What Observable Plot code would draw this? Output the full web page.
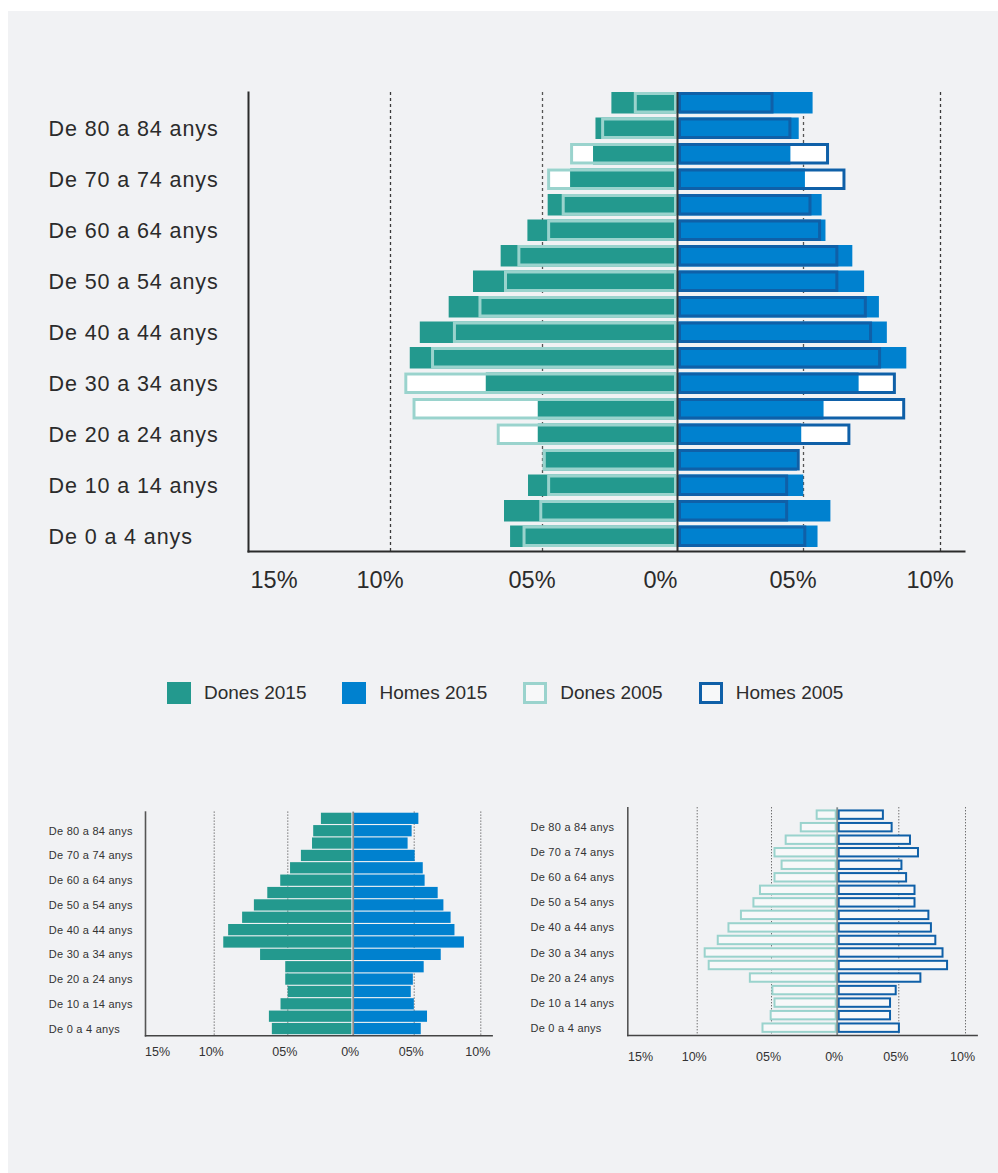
<!DOCTYPE html>
<html>
<head>
<meta charset="utf-8">
<script src="https://cdn.jsdelivr.net/npm/d3@7"></script>
<script src="https://cdn.jsdelivr.net/npm/@observablehq/plot@0.6"></script>
<style>
  html, body { margin: 0; padding: 0; background: #ffffff; overflow: hidden; }
  body { width: 998px; height: 1173px; position: relative; font-family: "Liberation Sans", Arial, sans-serif; }
  #panel { position: absolute; left: 8px; top: 11px; width: 990px; height: 1162px; background: #f1f2f4; }
  .chart { position: absolute; }
  .chart svg { display: block; overflow: visible; }
  #big g[aria-label="y-axis tick label"] { letter-spacing: 0.9px; }
  #smallA g[aria-label="y-axis tick label"], #smallB g[aria-label="y-axis tick label"] { letter-spacing: 0.25px; }
  #legend { position: absolute; left: 167px; top: 682px; display: flex; align-items: center; gap: 36px; font-size: 19px; color: #2d2d2d; }
  #legend .item { display: flex; align-items: center; }
  #legend .sw { width: 24px; height: 22px; box-sizing: border-box; margin-right: 13px; }
</style>
</head>
<body>
<div id="panel"></div>
<div id="big" class="chart" style="left:0px; top:58px;"></div>
<div id="legend"></div>
<div id="smallA" class="chart" style="left:0px; top:790px;"></div>
<div id="smallB" class="chart" style="left:500px; top:790px;"></div>
<script>
// ---- data (ordered from youngest to oldest) ----
const ages = ["De 0 a 4 anys","De 5 a 9 anys","De 10 a 14 anys","De 15 a 19 anys","De 20 a 24 anys","De 25 a 29 anys","De 30 a 34 anys","De 35 a 39 anys","De 40 a 44 anys","De 45 a 49 anys","De 50 a 54 anys","De 55 a 59 anys","De 60 a 64 anys","De 65 a 69 anys","De 70 a 74 anys","De 75 a 79 anys","De 80 a 84 anys","De 85 anys i més"];
const labelledAges = ["De 0 a 4 anys","De 10 a 14 anys","De 20 a 24 anys","De 30 a 34 anys","De 40 a 44 anys","De 50 a 54 anys","De 60 a 64 anys","De 70 a 74 anys","De 80 a 84 anys"];
const women2015 = [6.05, 6.25, 5.46, 4.97, 5.14, 5.14, 6.85, 9.35, 9.02, 8.07, 7.27, 6.36, 5.48, 4.79, 3.96, 3.11, 3.02, 2.43];
const men2015   = [5.53, 6.00, 5.01, 4.76, 4.93, 5.75, 7.03, 8.77, 8.06, 7.77, 7.23, 6.80, 5.82, 5.68, 5.07, 4.50, 4.83, 5.35];
const women2005 = [5.64, 5.09, 4.81, 4.97, 6.49, 9.26, 9.53, 8.65, 7.93, 7.09, 6.25, 5.81, 4.81, 4.27, 4.81, 3.96, 2.81, 1.60];
const men2005   = [5.12, 4.41, 4.41, 4.87, 6.73, 8.73, 8.39, 7.85, 7.52, 7.33, 6.29, 6.29, 5.66, 5.31, 6.55, 5.95, 4.54, 3.83];
const tickValues = [-15, -10, -5, 0, 5, 10];
const tickLabels = ["15%", "10%", "05%", "0%", "05%", "10%"];
const seriesNames = ["Dones 2015", "Homes 2015", "Dones 2005", "Homes 2005"];

const C = { w15: "#23998e", m15: "#0081cf", w05: "#9ad3cd", m05: "#0f60a8" };

const rows = ages.map((age, i) => ({ age, w15: women2015[i], m15: men2015[i], w05: women2005[i], m05: men2005[i] }));
const topDown = ages.slice().reverse();
const baseStyle = { background: "transparent", fontFamily: "'Liberation Sans', Arial, sans-serif", color: "#2b2b2b", overflow: "visible" };

// The source's percentage axis is not evenly spaced; a piecewise-linear
// scale transform reproduces its grid spacing.
function xAxisSetup(domain, range) {
  const f = d3.scaleLinear().domain(domain).range(range);
  const lo = range[0], hi = range[range.length - 1];
  const ticks = tickValues.map(f);
  const labelOf = new Map(ticks.map((t, i) => [t, tickLabels[i]]));
  return {
    scale: { transform: f, domain: [lo, hi], range: [lo, hi] },
    ticks,
    tickFormat: t => labelOf.get(t)
  };
}

// ---- big pyramid ----
const bx = xAxisSetup([-16.7, -15, -10, -5, 0, 5, 10, 10.85], [248, 284, 390, 542, 677, 803, 940, 964]);
const big = Plot.plot({
  width: 998, height: 548,
  marginTop: 30, marginBottom: 55, marginLeft: 248, marginRight: 34,
  style: baseStyle,
  x: bx.scale,
  y: { domain: topDown, padding: 0.157, round: false },
  marks: [
    Plot.ruleX([-10, 10], { stroke: "#3a3a3a", strokeWidth: 1.3, strokeDasharray: "3,3", insetTop: 4 }),
    Plot.ruleX([-5, 5], { stroke: "#555", strokeWidth: 1.3, strokeDasharray: "3,3", insetTop: 4 }),
    Plot.barX(rows, { y: "age", x1: d => -d.w05, x2: 0, fill: "#ffffff" }),
    Plot.barX(rows, { y: "age", x1: 0, x2: "m05", fill: "#ffffff" }),
    Plot.barX(rows, { y: "age", x1: d => -d.w15, x2: 0, fill: C.w15, insetRight: 1 }),
    Plot.barX(rows, { y: "age", x1: 0, x2: "m15", fill: C.m15, insetLeft: 2 }),
    Plot.barX(rows, { y: "age", x1: d => -d.w05, x2: 0, fill: "none", stroke: C.w05, strokeWidth: 3, inset: 1.5 }),
    Plot.barX(rows, { y: "age", x1: 0, x2: "m05", fill: "none", stroke: C.m05, strokeWidth: 3, inset: 1.5, insetLeft: 2.5 }),
    Plot.ruleX([0], { stroke: "#333", strokeWidth: 2, insetTop: 4 }),
    Plot.frame({ anchor: "left", stroke: "#2b2b2b", strokeWidth: 2, insetTop: 4 }),
    Plot.frame({ anchor: "bottom", stroke: "#2b2b2b", strokeWidth: 2 }),
    Plot.axisY({ ticks: labelledAges, tickSize: 0, tickPadding: 0, textAnchor: "start", dx: -200, fontSize: 21.5, label: null, fill: "#2b2b2b" }),
    Plot.axisX({ ticks: bx.ticks, tickFormat: bx.tickFormat, tickSize: 0, tickPadding: 20, textAnchor: "start", dx: -34, fontSize: 23.5, label: null, fill: "#2b2b2b" })
  ]
});
document.getElementById("big").append(big);

// ---- legend ----
const legend = document.getElementById("legend");
const swatchStyles = [
  `background:${C.w15};`,
  `background:${C.m15};`,
  `background:#f7f8f9; border:3px solid ${C.w05};`,
  `background:#f7f8f9; border:3px solid ${C.m05};`
];
seriesNames.forEach((name, i) => {
  const item = document.createElement("div");
  item.className = "item";
  item.innerHTML = `<span class="sw" style="${swatchStyles[i]}"></span><span>${name}</span>`;
  legend.append(item);
});

// ---- small pyramid: 2015 ----
const ax = xAxisSetup([-16.4, -15, -10, -5, 0, 5, 10, 10.86], [145, 160, 213.7, 287.3, 352.7, 413.7, 480.3, 491.7]);
const smallA = Plot.plot({
  width: 500, height: 280,
  marginTop: 21.6, marginBottom: 34.7, marginLeft: 145, marginRight: 8.3,
  style: baseStyle,
  x: ax.scale,
  y: { domain: topDown, padding: 0.09, round: false },
  marks: [
    Plot.ruleX([-10, -5, 5, 10], { stroke: "#3a3a3a", strokeWidth: 1, strokeDasharray: "1,2" }),
    Plot.barX(rows, { y: "age", x1: d => -d.w15, x2: 0, fill: C.w15, insetRight: 1.3 }),
    Plot.barX(rows, { y: "age", x1: 0, x2: "m15", fill: C.m15, insetLeft: 1.3 }),
    Plot.ruleX([0], { stroke: "#8a8a8a", strokeWidth: 1.8 }),
    Plot.frame({ anchor: "left", stroke: "#555", strokeWidth: 1.6 }),
    Plot.frame({ anchor: "bottom", stroke: "#444", strokeWidth: 1.4 }),
    Plot.axisY({ ticks: labelledAges, tickSize: 0, tickPadding: 0, textAnchor: "start", dx: -96.7, fontSize: 11, label: null, fill: "#333" }),
    Plot.axisX({ ticks: ax.ticks, tickFormat: ax.tickFormat, tickSize: 0, tickPadding: 11, dx: -3, fontSize: 12.5, label: null, fill: "#333" })
  ]
});
document.getElementById("smallA").append(smallA);

// ---- small pyramid: 2005 ----
const cx = xAxisSetup([-16.46, -15, -10, -5, 0, 5, 10, 10.88], [127.3, 143, 196.7, 271, 336.7, 398.3, 465, 476.7]);
const smallB = Plot.plot({
  width: 498, height: 280,
  marginTop: 17.3, marginBottom: 35, marginLeft: 127.3, marginRight: 21.3,
  style: baseStyle,
  x: cx.scale,
  y: { domain: topDown, padding: 0.17, round: false },
  marks: [
    Plot.ruleX([-10, -5, 5, 10], { stroke: "#3a3a3a", strokeWidth: 1, strokeDasharray: "1,2" }),
    Plot.barX(rows, { y: "age", x1: d => -d.w05, x2: 0, fill: "#f7f8f9", stroke: C.w05, strokeWidth: 2, inset: 1 }),
    Plot.barX(rows, { y: "age", x1: 0, x2: "m05", fill: "#f7f8f9", stroke: C.m05, strokeWidth: 2, inset: 1, insetLeft: 2 }),
    Plot.ruleX([0], { stroke: "#7f8c8c", strokeWidth: 1.8 }),
    Plot.frame({ anchor: "left", stroke: "#555", strokeWidth: 1.6 }),
    Plot.frame({ anchor: "bottom", stroke: "#444", strokeWidth: 1.4 }),
    Plot.axisY({ ticks: labelledAges, tickSize: 0, tickPadding: 0, textAnchor: "start", dx: -97.3, fontSize: 11, label: null, fill: "#333" }),
    Plot.axisX({ ticks: cx.ticks, tickFormat: cx.tickFormat, tickSize: 0, tickPadding: 17, dx: -3, fontSize: 12.5, label: null, fill: "#333" })
  ]
});
document.getElementById("smallB").append(smallB);
</script>
</body>
</html>
